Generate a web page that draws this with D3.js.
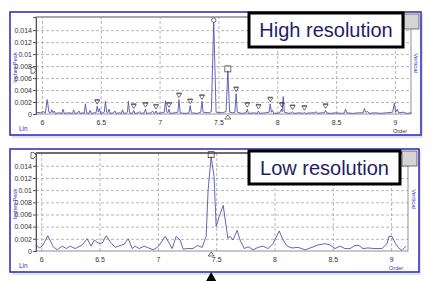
<!DOCTYPE html>
<html lang="en">
<head>
  <meta charset="UTF-8">
  <title>High vs low resolution order spectrum</title>
  <script src="https://d3js.org/d3.v7.min.js"></script>
  <style>
    body {
      margin: 0;
      background: white;
      font-family: "Liberation Sans", Arial, sans-serif;
    }
    svg { display: block; }
    .tick text { font-size: 7px; fill: #333; }
    .grid line { stroke: #999; stroke-dasharray: 3,2; stroke-width: 0.7; }
    .grid path { display: none; }
  </style>
</head>
<body>
  <svg width="435" height="282"></svg>

  <script>
    // axis ticks
    const xTicks = [6, 6.5, 7, 7.5, 8, 8.5, 9];
    const yTicks = [0, 0.002, 0.004, 0.006, 0.008, 0.01, 0.012, 0.014];

    // high resolution spectrum: [order, inches peak]
    const hiData = [
      [5.95,0.0003],[5.99,0.0002],[6.01,0.0004],[6.03,0.0002],[6.045,0.0024],[6.06,0.0003],[6.075,0.0002],
      [6.085,0.0007],[6.095,0.0002],[6.105,0.0005],[6.115,0.0001],[6.15,0.0002],[6.17,0.0001],[6.18,0.0008],
      [6.19,0.0001],[6.23,0.0002],[6.26,0.0001],[6.27,0.0007],[6.28,0.0001],[6.305,0.0002],[6.315,0.0005],
      [6.325,0.0001],[6.35,0.0002],[6.36,0.0001],[6.37,0.0017],[6.38,0.0002],[6.40,0.0001],[6.41,0.0006],
      [6.42,0.0001],[6.445,0.0002],[6.46,0.0002],[6.47,0.0013],[6.48,0.0003],[6.49,0.0009],[6.50,0.0001],
      [6.52,0.0002],[6.53,0.0003],[6.54,0.0021],[6.55,0.0003],[6.56,0.0002],[6.57,0.0008],[6.58,0.0001],
      [6.61,0.0002],[6.62,0.0005],[6.63,0.0001],[6.66,0.0002],[6.675,0.0001],[6.685,0.0007],[6.695,0.0001],
      [6.72,0.0002],[6.727,0.0003],[6.735,0.0021],[6.745,0.0002],[6.77,0.0001],[6.78,0.0006],[6.79,0.0001],
      [6.82,0.0002],[6.83,0.0004],[6.84,0.0001],[6.87,0.0002],[6.88,0.0008],[6.89,0.0001],[6.93,0.0002],
      [6.94,0.0005],[6.95,0.0002],[6.96,0.0001],[6.97,0.0005],[6.98,0.0001],[7.02,0.0002],[7.04,0.0003],
      [7.05,0.0022],[7.06,0.0004],[7.07,0.0002],[7.08,0.0008],[7.09,0.0001],[7.13,0.0002],[7.155,0.0003],
      [7.165,0.0024],[7.175,0.0002],[7.22,0.0001],[7.25,0.0002],[7.26,0.0014],[7.27,0.0002],[7.32,0.0001],
      [7.35,0.0003],[7.36,0.0021],[7.37,0.0003],[7.42,0.0002],[7.44,0.0004],[7.46,0.0155],[7.48,0.0003],
      [7.53,0.0002],[7.565,0.0004],[7.58,0.0072],[7.595,0.0003],[7.62,0.0002],[7.64,0.0003],[7.65,0.0034],
      [7.66,0.0003],[7.70,0.0001],[7.735,0.0002],[7.745,0.0008],[7.755,0.0001],[7.80,0.0002],[7.83,0.0001],
      [7.84,0.0005],[7.85,0.0001],[7.90,0.0002],[7.93,0.0003],[7.94,0.0017],[7.95,0.0003],[7.96,0.0006],
      [7.97,0.0001],[8.02,0.0002],[8.035,0.0008],[8.042,0.0004],[8.05,0.0029],[8.06,0.0003],[8.10,0.0001],
      [8.12,0.0002],[8.13,0.0004],[8.14,0.0001],[8.19,0.0002],[8.22,0.0001],[8.23,0.0003],[8.24,0.0001],
      [8.29,0.0002],[8.32,0.0002],[8.33,0.0004],[8.34,0.0001],[8.38,0.0002],[8.40,0.0002],[8.41,0.0006],
      [8.42,0.0002],[8.45,0.0001],[8.50,0.0002],[8.55,0.0001],[8.57,0.0002],[8.58,0.0008],[8.59,0.0002],
      [8.64,0.0001],[8.69,0.0002],[8.73,0.0002],[8.74,0.0009],[8.75,0.0003],[8.77,0.0004],[8.78,0.0001],
      [8.83,0.0002],[8.88,0.0001],[8.93,0.0002],[8.98,0.0003],[8.995,0.0018],[9.005,0.0003],[9.02,0.0008],
      [9.03,0.0002],[9.07,0.0003],[9.10,0.0001],[9.14,0.0002]
    ];

    // low resolution spectrum
    const loData = [
      [5.957,0.001],[5.983,0.0005],[6.009,0.0008],[6.057,0.0025],[6.103,0.0007],[6.137,0.0002],[6.18,0.0008],
      [6.214,0.0004],[6.249,0.0008],[6.291,0.0004],[6.351,0.001],[6.394,0.002],[6.428,0.0008],[6.454,0.0018],
      [6.488,0.0013],[6.523,0.0013],[6.557,0.0025],[6.591,0.0015],[6.634,0.0006],[6.677,0.0009],[6.711,0.0011],
      [6.746,0.002],[6.78,0.0004],[6.805,0.0008],[6.84,0.0004],[6.883,0.0008],[6.908,0.0006],[6.96,0.0002],
      [7.003,0.0007],[7.063,0.0024],[7.097,0.0013],[7.123,0.0004],[7.157,0.0024],[7.191,0.0018],[7.217,0.0003],
      [7.251,0.0004],[7.302,0.0004],[7.337,0.0009],[7.38,0.0006],[7.414,0.0024],[7.431,0.01],[7.457,0.0155],
      [7.482,0.0122],[7.5,0.004],[7.525,0.0056],[7.56,0.0075],[7.6,0.0021],[7.62,0.0024],[7.645,0.0018],
      [7.68,0.0034],[7.705,0.0018],[7.74,0.0004],[7.774,0.0007],[7.817,0.0002],[7.86,0.0006],[7.902,0.0008],
      [7.945,0.0004],[7.988,0.0012],[8.04,0.0033],[8.074,0.0018],[8.108,0.0008],[8.151,0.0005],[8.202,0.0006],
      [8.262,0.0002],[8.322,0.0006],[8.374,0.001],[8.434,0.0012],[8.476,0.001],[8.519,0.0004],[8.562,0.0008],
      [8.605,0.0004],[8.648,0.0004],[8.69,0.0009],[8.725,0.0009],[8.759,0.0004],[8.802,0.0005],[8.862,0.0004],
      [8.922,0.0004],[8.965,0.0012],[8.982,0.0024],[9.008,0.0024],[9.033,0.0014],[9.059,0.0006],[9.093,0.0001],
      [9.128,0.0008]
    ];

    // peak cursors on the high resolution trace
    const hiCursors = [
      [6.47,0.0013],[6.78,0.0006],[6.88,0.0008],[6.97,0.0005],[7.08,0.0008],[7.165,0.0024],[7.26,0.0014],
      [7.36,0.0021],[7.65,0.0034],[7.745,0.0008],[7.84,0.0005],[7.94,0.0017],[8.04,0.0008],[8.13,0.0004],
      [8.23,0.0003],[8.41,0.0006]
    ];

    const svg = d3.select("svg");
    const blue = "#3434bc";
    const traceColor = "#5454b0";

    function panel(cfg) {
      const g = svg.append("g");
      const f = cfg.frame, p = cfg.plot;

      // drop shadow + frame
      g.append("rect").attr("x", f.x + 2).attr("y", f.y + 3).attr("width", f.w).attr("height", f.h)
        .attr("fill", "#e4e4e4");
      g.append("rect").attr("x", f.x).attr("y", f.y).attr("width", f.w).attr("height", f.h)
        .attr("fill", "white").attr("stroke", blue).attr("stroke-width", 1.6);

      const x = d3.scaleLinear().domain(cfg.xDomain).range([p.l, p.r]);
      const y = d3.scaleLinear().domain([0, cfg.yMax]).range([p.b, p.t]);

      // grid
      g.append("g").attr("class", "grid")
        .attr("transform", `translate(0,${p.b})`)
        .call(d3.axisBottom(x).tickValues(xTicks).tickSize(-(p.b - p.t)).tickFormat(""));
      g.append("g").attr("class", "grid")
        .attr("transform", `translate(${p.l},0)`)
        .call(d3.axisLeft(y).tickValues(yTicks.slice(1)).tickSize(-(p.r - p.l)).tickFormat(""));

      // plot border
      g.append("rect").attr("x", p.l).attr("y", p.t).attr("width", p.r - p.l).attr("height", p.b - p.t)
        .attr("fill", "none").attr("stroke", "#777").attr("stroke-width", 0.8);
      g.append("line").attr("x1", p.l).attr("x2", p.r).attr("y1", p.t).attr("y2", p.t)
        .attr("stroke", cfg.topLine).attr("stroke-width", 1);

      // axes
      const ya = g.append("g").attr("transform", `translate(${p.l},0)`)
        .call(d3.axisLeft(y).tickValues(yTicks).tickSize(3).tickPadding(1).tickFormat(d => d === 0 ? "0" : d3.format("~g")(d)));
      ya.select(".domain").attr("stroke", "#555");
      ya.selectAll(".tick line").attr("stroke", "#555");
      const xa = g.append("g").attr("transform", `translate(0,${p.b})`)
        .call(d3.axisBottom(x).tickValues(xTicks).tickSize(0).tickPadding(6).tickFormat(d3.format("~g")));
      xa.select(".domain").remove();

      // trace
      g.append("path").datum(cfg.data)
        .attr("fill", "none").attr("stroke", traceColor).attr("stroke-width", 0.9)
        .attr("stroke-linejoin", "round")
        .attr("d", d3.line().x(d => x(d[0])).y(d => y(d[1])));

      // small labels
      const small = (tx, ty, txt, col, rot, size) => g.append("text")
        .attr("transform", `translate(${tx},${ty})` + (rot ? ` rotate(${rot})` : ""))
        .attr("text-anchor", rot ? "middle" : "start")
        .attr("font-size", size || 6.5).attr("fill", col).text(txt);
      small(19, f.y + f.h - 4, "Lin", blue);
      small(x(9) - 2, f.y + f.h - 2, "Order", cfg.orderColor, 0, 5.5);
      small(f.x + f.w - 7, p.t + 46, "Vertical", blue, 90, 6);
      small(17, (p.t + p.b) / 2 + 2, "Inches Peak", blue, -90, 5.5);

      // cursor readout on the y axis
      const cy = y(cfg.readout);
      g.append("path").attr("d", `M${p.l - 5},${cy - 3}h3l2,3l-2,3h-3z`)
        .attr("fill", "white").attr("stroke", "#333").attr("stroke-width", 0.7);

      // title box
      const b = cfg.box;
      g.append("rect").attr("x", f.x + f.w - 17).attr("y", f.y + 2).attr("width", 15).attr("height", 15)
        .attr("fill", "#d4d4d4").attr("stroke", "#555").attr("stroke-width", 0.8);
      g.append("rect").attr("x", b.x).attr("y", b.y).attr("width", b.w).attr("height", b.h)
        .attr("fill", "white").attr("stroke", "black").attr("stroke-width", 3);
      g.append("text").attr("x", b.x + b.w / 2).attr("y", b.y + b.h / 2 + 7)
        .attr("text-anchor", "middle").attr("font-size", 20).attr("fill", "#1e1e66")
        .text(cfg.title);

      return { g, x, y };
    }

    // ---- top: high resolution ----
    const hiPanel = panel({
      frame: { x: 10, y: 12, w: 411, h: 123 },
      plot: { l: 36, t: 17, r: 411, b: 114 },
      xDomain: [5.95, 9.136], yMax: 0.0162,
      data: hiData, readout: 0.0073, topLine: "#888", orderColor: "#333",
      box: { x: 249, y: 13, w: 154, h: 34 }, title: "High resolution"
    });
    hiPanel.g.selectAll(".cur").data(hiCursors).join("path")
      .attr("d", d => {
        const cx = hiPanel.x(d[0]), cy = hiPanel.y(d[1]) - 4;
        return `M${cx - 2.5},${cy - 2}h5l-2.5,4z M${cx - 2.5},${cy - 2.6}h5`;
      })
      .attr("fill", "none").attr("stroke", "#333").attr("stroke-width", 0.7);
    hiPanel.g.append("circle").attr("cx", hiPanel.x(7.46)).attr("cy", hiPanel.y(0.0155) - 1).attr("r", 2.2)
      .attr("fill", "white").attr("stroke", "#333").attr("stroke-width", 0.7);
    hiPanel.g.append("rect").attr("x", hiPanel.x(7.58) - 3).attr("y", hiPanel.y(0.0072) - 5).attr("width", 6).attr("height", 6)
      .attr("fill", "none").attr("stroke", "#333").attr("stroke-width", 0.7);
    hiPanel.g.append("path").attr("d", `M${hiPanel.x(7.58) - 3},${hiPanel.y(0) + 5}h6l-3,-4z`)
      .attr("fill", "white").attr("stroke", "#333").attr("stroke-width", 0.7);

    // ---- bottom: low resolution ----
    const loPanel = panel({
      frame: { x: 10, y: 149, w: 409, h: 123 },
      plot: { l: 36, t: 153, r: 408, b: 251 },
      xDomain: [5.955, 9.145], yMax: 0.0161,
      data: loData, readout: 0.0157, topLine: "#111", orderColor: blue,
      box: { x: 249, y: 151, w: 151, h: 33 }, title: "Low resolution"
    });
    loPanel.g.append("rect").attr("x", loPanel.x(7.457) - 3).attr("y", loPanel.y(0.0155) - 5).attr("width", 6).attr("height", 6)
      .attr("fill", "none").attr("stroke", "#333").attr("stroke-width", 0.7);
    loPanel.g.append("path").attr("d", `M${loPanel.x(7.457) - 3},${loPanel.y(0) + 5}h6l-3,-4z`)
      .attr("fill", "white").attr("stroke", "#333").attr("stroke-width", 0.7);
    // pointer under the panel
    loPanel.g.append("path").attr("d", `M${loPanel.x(7.457) - 5},281h10l-5,-9z`).attr("fill", "black");
  </script>
</body>
</html>
